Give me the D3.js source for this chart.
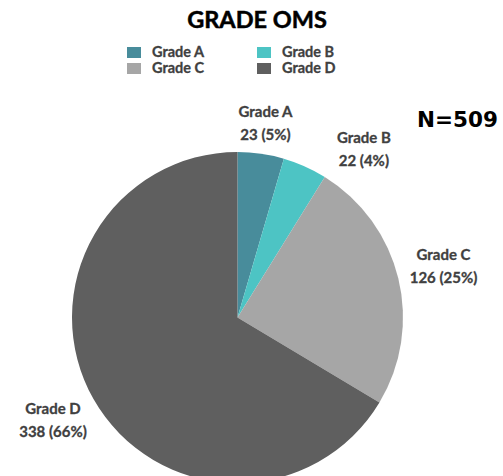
<!DOCTYPE html>
<html>
<head>
<meta charset="utf-8">
<script src="https://cdn.jsdelivr.net/npm/d3@7"></script>
<style>
  body { margin: 0; background: #fff; }
  svg { display: block; }
  text { font-family: Lato, "Open Sans", sans-serif; font-weight: bold; }
</style>
</head>
<body>
<svg id="chart" width="503" height="476"></svg>
<script>
// Chart data
const categories = ['Grade A', 'Grade B', 'Grade C', 'Grade D'];
const counts = [23, 22, 126, 338];
const percents = [5, 4, 25, 66];
const colors = ['#488c9b', '#4dc4c4', '#a6a6a6', '#5f5f5f'];
const totalLabel = 'N=509';
const title = 'GRADE OMS';

const width = 503;
const height = 476;
const cx = 237.5;
const cy = 317.5;
const radius = 165.5;

const svg = d3.select('#chart');

const color = d3.scaleOrdinal().domain(categories).range(colors);

const slices = categories.map((c, i) => ({ cat: c, value: counts[i], pct: percents[i] }));

// Title
svg.append('text')
  .attr('x', 257)
  .attr('y', 28)
  .attr('text-anchor', 'middle')
  .style('font-size', '23.5px')
  .style('fill', '#000')
  .style('stroke', '#000')
  .style('stroke-width', 0.5)
  .text(title);

// Legend, two columns
const legend = svg.append('g').attr('class', 'legend');
const legendItems = legend.selectAll('g')
  .data(categories)
  .enter().append('g')
    .attr('transform', (d, i) => `translate(${127 + (i % 2) * 130}, ${47 + Math.floor(i / 2) * 16})`);

legendItems.append('rect')
  .attr('width', 14)
  .attr('height', 11)
  .style('fill', (d) => color(d));

legendItems.append('text')
  .attr('x', 25)
  .attr('y', 10)
  .style('font-size', '14.5px')
  .style('fill', '#404040')
  .style('stroke', '#404040')
  .style('stroke-width', 0.3)
  .text((d) => d);

// Pie
const pie = d3.pie()
  .sort(null)
  .value((d) => d.value);

const arc = d3.arc().innerRadius(0).outerRadius(radius);
const labelArc = d3.arc().innerRadius(212).outerRadius(212);

const g = svg.append('g').attr('transform', `translate(${cx},${cy})`);

const arcs = pie(slices);

g.selectAll('path')
  .data(arcs)
  .enter().append('path')
    .attr('d', arc)
    .style('fill', (d) => color(d.data.cat));

// small slices get pushed apart so their labels don't collide
const nudge = { 'Grade A': [-2, 17], 'Grade B': [40, 27] };

const labels = g.selectAll('.slice-label')
  .data(arcs)
  .enter().append('text')
    .attr('class', 'slice-label')
    .attr('text-anchor', 'middle')
    .style('font-size', '15px')
    .style('fill', '#404040')
    .style('stroke', '#404040')
    .style('stroke-width', 0.3)
    .attr('transform', (d) => {
      const [x, y] = labelArc.centroid(d);
      const [dx, dy] = nudge[d.data.cat] || [0, 0];
      return `translate(${x + dx},${y + dy})`;
    });

labels.append('tspan')
  .attr('x', 0)
  .attr('y', -8)
  .text((d) => d.data.cat);

labels.append('tspan')
  .attr('x', 0)
  .attr('y', 15)
  .text((d) => `${d.data.value} (${d.data.pct}%)`);

// Total
svg.append('text')
  .attr('x', 417)
  .attr('y', 127)
  .style('font-family', '"DejaVu Sans", sans-serif')
  .style('font-size', '21.5px')
  .style('fill', '#000')
  .text(totalLabel);
</script>
</body>
</html>
